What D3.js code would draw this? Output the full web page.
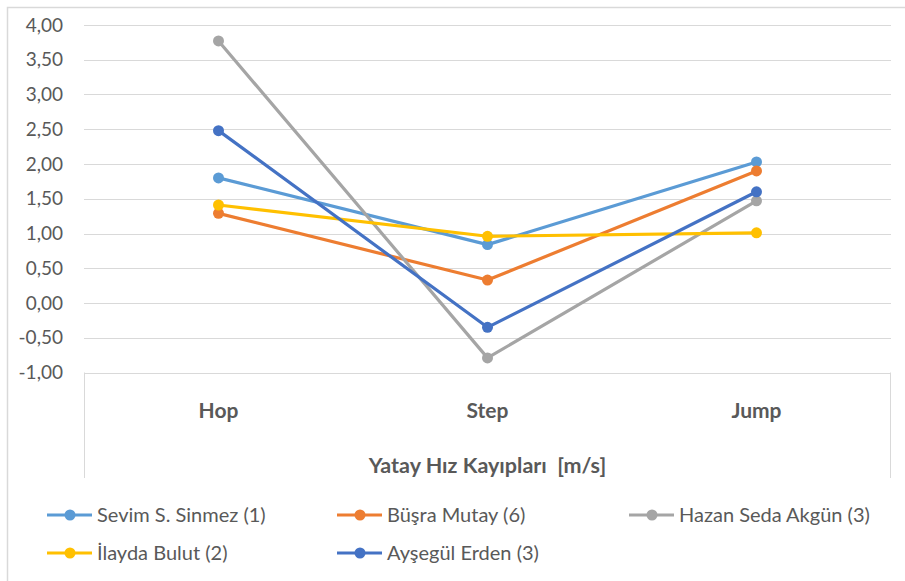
<!DOCTYPE html>
<html><head><meta charset="utf-8">
<script src="https://cdn.jsdelivr.net/npm/d3@7"></script>
<style>
body{margin:0;background:#fff;}
svg{display:block;font-family:Lato,"Open Sans",sans-serif;}
</style></head>
<body>
<svg id="c" width="905" height="581"></svg>
<script>
const categories = ["Hop", "Step", "Jump"];
const seriesNames = ["Sevim S. Sinmez (1)", "Büşra Mutay (6)", "Hazan Seda Akgün (3)", "İlayda Bulut (2)", "Ayşegül Erden (3)"];
const sevim = [1.80, 0.84, 2.03];
const busra = [1.29, 0.33, 1.90];
const hazan = [3.77, -0.79, 1.47];
const ilayda = [1.41, 0.96, 1.01];
const aysegul = [2.48, -0.35, 1.60];
const yTicks = [-1, -0.5, 0, 0.5, 1, 1.5, 2, 2.5, 3, 3.5, 4];
const axisTitle = "Yatay Hız Kayıpları  [m/s]";
const colors = ["#5B9BD5", "#ED7D31", "#A5A5A5", "#FFC000", "#4472C4"];

const series = [sevim, busra, hazan, ilayda, aysegul].map((v, i) => ({name: seriesNames[i], values: v, color: colors[i]}));
const svg = d3.select("#c");
const L = 84, R = 891, T = 25, B = 372.5;

svg.append("rect").attr("x", 7.5).attr("y", 7.5).attr("width", 910).attr("height", 590)
  .attr("fill", "#fff").attr("stroke", "#d9d9d9").attr("stroke-width", 1.5);

const x = d3.scaleBand().domain(categories).range([L, R]);
const y = d3.scaleLinear().domain([-1, 4]).range([B, T]);

// gridlines
svg.append("g").selectAll("line").data(yTicks).join("line")
  .attr("x1", L).attr("x2", R)
  .attr("y1", d => Math.round(y(d)) + 0.5).attr("y2", d => Math.round(y(d)) + 0.5)
  .attr("stroke", "#d9d9d9").attr("stroke-width", 1);

// category axis box sides
svg.append("line").attr("x1", L + 0.5).attr("x2", L + 0.5).attr("y1", y(-1)).attr("y2", 478).attr("stroke", "#d9d9d9");
svg.append("line").attr("x1", R - 0.5).attr("x2", R - 0.5).attr("y1", y(-1)).attr("y2", 478).attr("stroke", "#d9d9d9");

// y axis labels
const fmt = d => d3.format(".2f")(d).replace(".", ",").replace("−", "-");
svg.append("g").selectAll("text").data(yTicks).join("text")
  .attr("x", 63).attr("y", d => y(d)).attr("dy", "0.35em")
  .attr("text-anchor", "end").attr("fill", "#595959").attr("font-size", 19)
  .text(fmt);

// category labels
svg.append("g").selectAll("text").data(categories).join("text")
  .attr("x", d => x(d) + x.bandwidth() / 2).attr("y", 411).attr("dy", "0.35em")
  .attr("text-anchor", "middle").attr("fill", "#595959").attr("font-size", 21).attr("font-weight", "bold")
  .text(d => d);

// axis title
svg.append("text").attr("x", (L + R) / 2).attr("y", 465).attr("dy", "0.35em")
  .attr("text-anchor", "middle").attr("fill", "#595959").attr("font-size", 21.5).attr("font-weight", "bold")
  .style("white-space", "pre").text(axisTitle);

// lines
const line = d3.line().x((d, i) => x(categories[i]) + x.bandwidth() / 2).y(d => y(d));
const gS = svg.append("g");
series.forEach(s => {
  gS.append("path").attr("d", line(s.values)).attr("fill", "none")
    .attr("stroke", s.color).attr("stroke-width", 3.2).attr("stroke-linejoin", "round").attr("stroke-linecap", "round");
  gS.append("g").selectAll("circle").data(s.values).join("circle")
    .attr("cx", (d, i) => x(categories[i]) + x.bandwidth() / 2).attr("cy", d => y(d))
    .attr("r", 5.5).attr("fill", s.color);
});

// legend
const legendPos = [[47, 515], [337, 515], [629, 515], [47, 553], [337, 553]];
series.forEach((s, i) => {
  const [lx, ly] = legendPos[i];
  const g = svg.append("g").attr("transform", `translate(${lx},${ly})`);
  g.append("line").attr("x1", 0).attr("x2", 45).attr("y1", 0).attr("y2", 0).attr("stroke", s.color).attr("stroke-width", 3.2);
  g.append("circle").attr("cx", 23).attr("cy", 0).attr("r", 5.5).attr("fill", s.color);
  g.append("text").attr("x", 50).attr("y", 0).attr("dy", "0.35em").attr("fill", "#595959").attr("font-size", 20).text(s.name);
});
</script>
</body></html>
